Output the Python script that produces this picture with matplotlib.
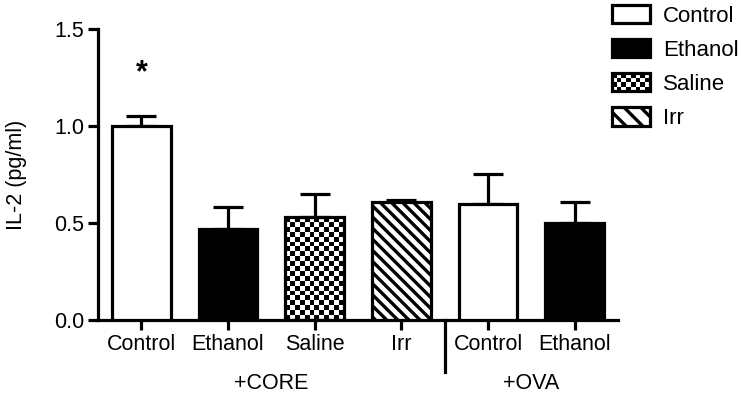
import numpy as np
import matplotlib
matplotlib.use("Agg")
import matplotlib.pyplot as plt
import matplotlib.transforms as mtransforms
from matplotlib.patches import Rectangle, Patch
from matplotlib.legend_handler import HandlerBase

# data
categories = ["Control", "Ethanol", "Saline", "Irr", "Control", "Ethanol"]
means = [1.00, 0.47, 0.53, 0.61, 0.60, 0.50]
errors = [0.05, 0.11, 0.12, 0.01, 0.155, 0.11]
kinds = ["control", "ethanol", "saline", "irr", "control", "ethanol"]
groups = [("+CORE", 0, 3), ("+OVA", 4, 5)]
legend_labels = ["Control", "Ethanol", "Saline", "Irr"]

plt.rcParams["font.family"] = ["Liberation Sans", "DejaVu Sans"]
plt.rcParams["hatch.linewidth"] = 2.4
LW = 2.3
FS = 15.5


class CheckerHandler(HandlerBase):
    def create_artists(self, legend, orig_handle, xdescent, ydescent,
                       width, height, fontsize, trans):
        x0, y0 = -xdescent, -ydescent
        nx, ny = 8, 4
        dx, dy = width / nx, height / ny
        arts = [Rectangle((x0, y0), width, height, facecolor="black",
                          edgecolor="none", transform=trans)]
        for i in range(nx):
            for j in range(ny):
                if (i + j) % 2 == 0:
                    arts.append(Rectangle((x0 + i * dx, y0 + j * dy), dx, dy,
                                          facecolor="white", edgecolor="none",
                                          transform=trans))
        arts.append(Rectangle((x0, y0), width, height, facecolor="none",
                              edgecolor="black", lw=LW, transform=trans))
        return arts


def main() -> None:
    fig = plt.figure(figsize=(7.5, 4), dpi=100)
    ax = fig.add_axes([0.1307, 0.2, 0.6933, 0.7275])

    x = np.arange(len(categories))
    width = 0.68
    face = {"control": "white", "ethanol": "black", "saline": "none", "irr": "white"}
    hatch = {"irr": "\\\\\\"}

    bars = ax.bar(x, means, width,
                  color=[face[k] for k in kinds],
                  edgecolor="black", linewidth=LW, zorder=3)
    for b, k in zip(bars, kinds):
        if k in hatch:
            b.set_hatch(hatch[k])

    # checkerboard fill for saline, clipped to the bar
    for xi, m, k, b in zip(x, means, kinds, bars):
        if k == "saline":
            nx, ny = 12, 21
            img = np.indices((ny, nx)).sum(axis=0) % 2
            im = ax.imshow(img, cmap="gray", interpolation="nearest", aspect="auto",
                           extent=[xi - width / 2, xi + width / 2, 0, m], zorder=2)
            im.set_clip_path(b)

    ax.errorbar(x, means, yerr=[np.zeros(len(errors)), errors], fmt="none",
                ecolor="black", elinewidth=LW, capsize=11, capthick=LW, zorder=2)

    ax.text(0, 1.27, "*", ha="center", va="center", fontsize=22, fontweight="bold")

    ax.set_xlim(-0.5, len(categories) - 0.5)
    ax.set_ylim(0, 1.5)
    ax.set_yticks([0, 0.5, 1.0, 1.5])
    ax.set_yticklabels(["0.0", "0.5", "1.0", "1.5"])
    ax.set_xticks(x)
    ax.set_xticklabels(categories)
    ax.tick_params(axis="both", direction="out", length=7, width=LW, labelsize=FS, pad=3)
    ax.set_ylabel("IL-2 (pg/ml)", fontsize=FS, labelpad=19)

    for s in ["top", "right"]:
        ax.spines[s].set_visible(False)
    for s in ["left", "bottom"]:
        ax.spines[s].set_linewidth(LW)

    trans = mtransforms.blended_transform_factory(ax.transData, ax.transAxes)
    ax.plot([3.5, 3.5], [0, -0.179], color="black", lw=LW, transform=trans, clip_on=False)
    for name, a, b in groups:
        ax.text((a + b) / 2, -0.217, name, ha="center", va="center", fontsize=FS,
                transform=trans)

    handles = [
        Patch(facecolor="white", edgecolor="black", lw=LW),
        Patch(facecolor="black", edgecolor="black", lw=LW),
        Patch(facecolor="white", edgecolor="black"),
        Patch(facecolor="white", edgecolor="black", lw=LW, hatch="\\\\"),
    ]
    fig.legend(handles, legend_labels, handler_map={handles[2]: CheckerHandler()},
               loc="upper left", bbox_to_anchor=(612 / 750, 0.988), frameon=False,
               borderpad=0, borderaxespad=0,
               fontsize=16, handlelength=1.7, handleheight=0.9,
               labelspacing=0.55, handletextpad=0.6)

    fig.savefig("out.png", dpi=100)


if __name__ == "__main__":
    main()
